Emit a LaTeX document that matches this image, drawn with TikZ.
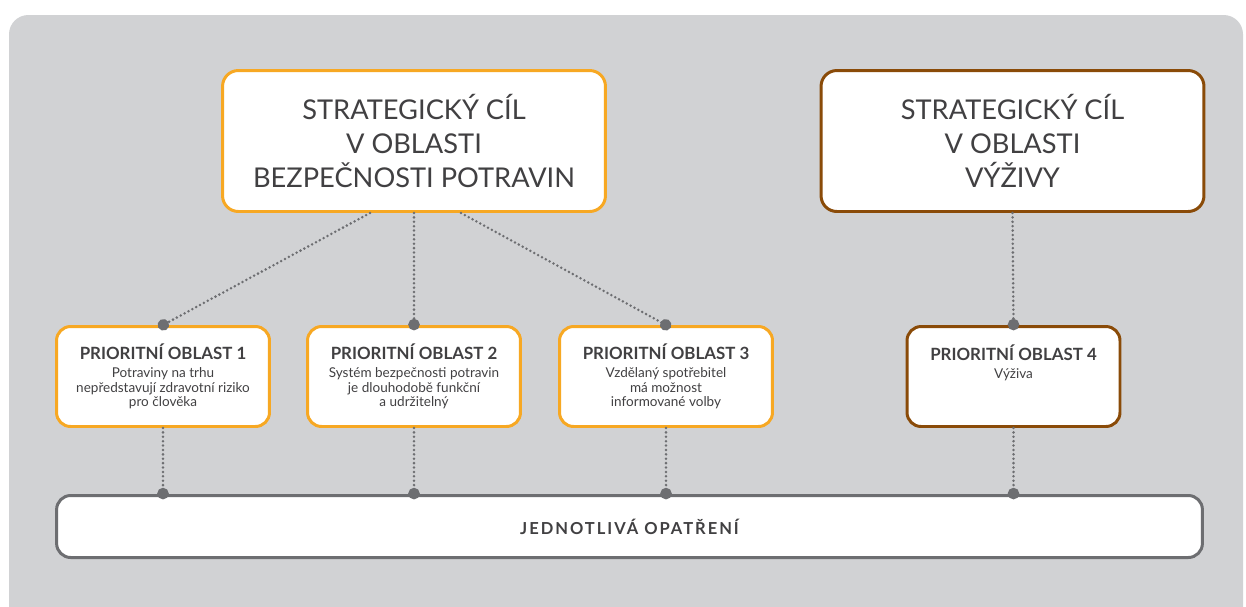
\documentclass[tikz,border=0pt]{standalone}
\usepackage{fontspec}
\setmainfont{Lato}
\usetikzlibrary{arrows.meta}

\definecolor{bggray}{HTML}{D1D2D4}
\definecolor{goalorange}{HTML}{F7A823}
\definecolor{goalbrown}{HTML}{8A4B08}
\definecolor{linegray}{HTML}{6D6E71}
\definecolor{txtgray}{HTML}{414042}

\begin{document}
\begin{tikzpicture}[x=0.02cm, y=-0.02cm,
        goal/.style={draw=#1, line width=1.7pt, fill=white, rounded corners=9pt,
            minimum width=7.66cm, minimum height=2.82cm, align=center, text=txtgray,
            font=\fontsize{15.5}{19.5}\selectfont},
        area/.style={draw=#1, line width=1.7pt, fill=white, rounded corners=8pt,
            minimum width=4.26cm, minimum height=2cm, align=center, text=txtgray,
            font=\fontsize{7.7}{8.3}\selectfont},
        conn/.style={draw=linegray, line width=1.6pt, line cap=round,
            dash pattern=on 0pt off 2.5pt, -{Circle[length=6.5pt]}, shorten >=-3pt}]
        \useasboundingbox (0,0) rectangle (1246,606);
        \clip (0,0) rectangle (1246,606);
        \fill[bggray, rounded corners=11pt] (9,15) rectangle (1243,650);

        % strategic goals
        \node[goal=goalorange] (sc1) at (414,141) {STRATEGICKÝ CÍL\\V OBLASTI\\BEZPEČNOSTI POTRAVIN};
        \node[goal=goalbrown] (sc2) at (1012.5,141) {STRATEGICKÝ CÍL\\V OBLASTI\\VÝŽIVY};

        % priority areas
        \node[area=goalorange] (po1) at (163,376.5) {{\fontsize{9.6}{11}\selectfont\bfseries PRIORITNÍ OBLAST 1}\\[2pt]
            Potraviny na trhu\\nepředstavují zdravotní riziko\\pro člověka};
        \node[area=goalorange] (po2) at (414,376.5) {{\fontsize{9.6}{11}\selectfont\bfseries PRIORITNÍ OBLAST 2}\\[2pt]
            Systém bezpečnosti potravin\\je dlouhodobě funkční\\a udržitelný};
        \node[area=goalorange] (po3) at (666,376.5) {{\fontsize{9.6}{11}\selectfont\bfseries PRIORITNÍ OBLAST 3}\\[2pt]
            Vzdělaný spotřebitel\\má možnost\\informované volby};
        \node[area=goalbrown] (po4) at (1013.5,376.5) {{\fontsize{9.6}{11}\selectfont\bfseries PRIORITNÍ OBLAST 4}\\[2pt]
            Výživa\\~\\~};

        % measures
        \node[draw=linegray, line width=1.7pt, fill=white, rounded corners=8pt,
            minimum width=22.92cm, minimum height=1.24cm, text=txtgray,
            font=\fontsize{9.4}{11}\selectfont\bfseries\addfontfeatures{LetterSpace=12}] (jo) at (629.5,526.5)
            {JEDNOTLIVÁ OPATŘENÍ};

        \draw[conn] ([xshift=-0.88cm]sc1.south) -- (po1.north);
        \draw[conn] (sc1.south) -- (po2.north);
        \draw[conn] ([xshift=0.94cm]sc1.south) -- (po3.north);
        \draw[conn] (sc2.south) -- (po4.north);
        \draw[conn] (po1.south) -- (po1.south |- jo.north);
        \draw[conn] (po2.south) -- (po2.south |- jo.north);
        \draw[conn] (po3.south) -- (po3.south |- jo.north);
        \draw[conn] (po4.south) -- (po4.south |- jo.north);
    \end{tikzpicture}
\end{document}
